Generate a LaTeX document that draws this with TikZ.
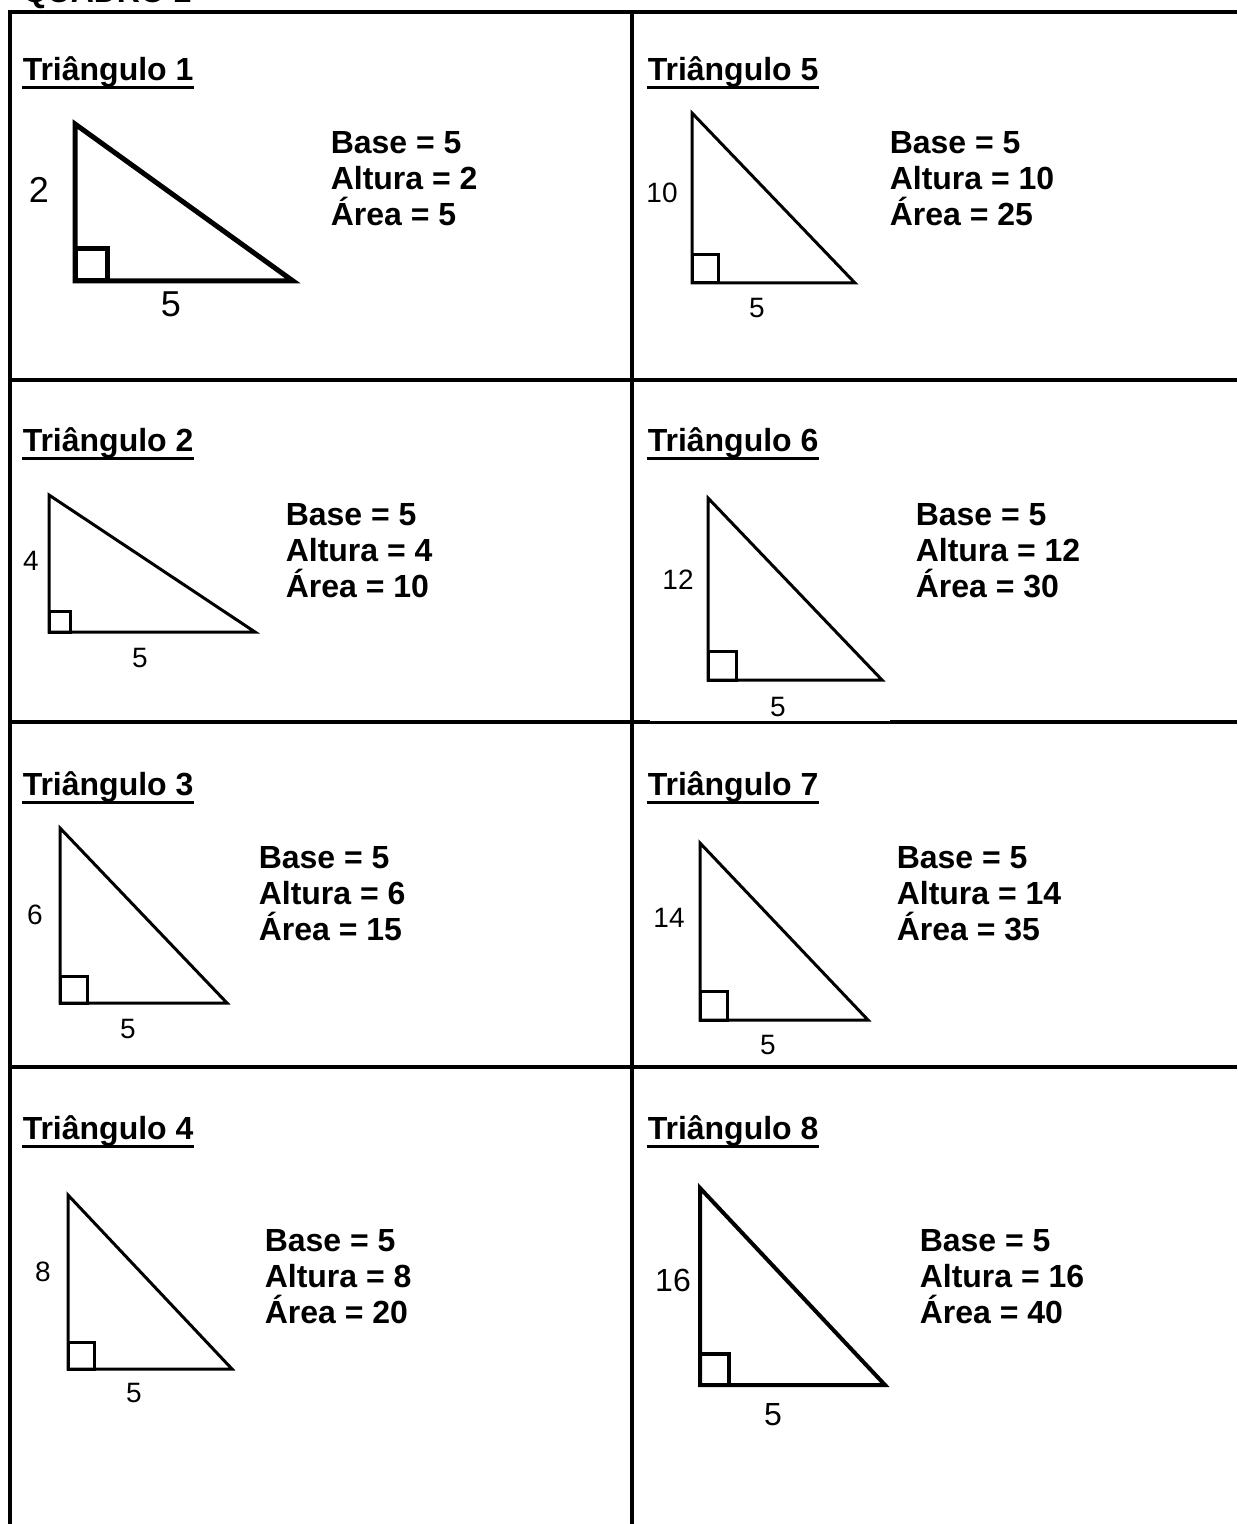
\documentclass[tikz,border=0pt]{standalone}
\usepackage{fontspec}
\setmainfont{Liberation Sans}
\usepackage{tikz}
\usetikzlibrary{calc,positioning}
\tikzset{
  every picture/.style={line width=0.75pt},
  gridline/.style={draw=black, line width=2pt},
  tripath/.style={draw=black, line width=1.5pt},
  underl/.style={draw=black, line width=1.5pt},
  titlelabel/.style={font=\fontsize{16pt}{18pt}\selectfont\bfseries, inner sep=0pt, anchor=base west},
  infolabel/.style={font=\fontsize{16pt}{18pt}\selectfont\bfseries, inner sep=0pt, anchor=base west},
  sidelabel/.style={font=\fontsize{14pt}{16pt}\selectfont, inner sep=0pt}
}
\begin{document}
\begin{tikzpicture}[x=0.5pt, y=-0.5pt]
  \useasboundingbox (0,0) rectangle (1237,1524);
  \node[titlelabel] (quadro) at (22,3) {QUADRO 2};

  % grid of the table
  \draw[gridline] (10,1524) -- (10,12) -- (1237,12);
  \draw[gridline] (632,12) -- (632,1524);
  \draw[gridline] (10,380) -- (1237,380);
  \draw[gridline] (10,722) -- (1237,722);
  \draw[gridline] (10,1067) -- (1237,1067);

  % Triangulo 1
  \node[titlelabel] (t1) at (22,81) {Triângulo 1};
  \draw[underl] ([yshift=-3.5pt]t1.base west) -- ([yshift=-3.5pt]t1.base east);
  \coordinate (c1) at (75,281);
  \draw[tripath, line width=2.5pt] (75,124) -- (c1) -- (293,281) -- cycle;
  \draw[tripath, line width=2.5pt] (c1) rectangle ++(32,-32);
  \node[sidelabel, font=\fontsize{18pt}{20pt}\selectfont] (h1) at (39,190) {2};
  \node[sidelabel, font=\fontsize{18pt}{20pt}\selectfont] (w1) at (171,304) {5};
  \node[infolabel] (b1) at (330,154) {Base = 5};
  \node[infolabel] (a1) at (330,190) {Altura = 2};
  \node[infolabel] (r1) at (330,226) {Área = 5};

  % Triangulo 2
  \node[titlelabel] (t2) at (22,451) {Triângulo 2};
  \draw[underl] ([yshift=-3.5pt]t2.base west) -- ([yshift=-3.5pt]t2.base east);
  \coordinate (c2) at (49,632);
  \draw[tripath] (49,495) -- (c2) -- (255,632) -- cycle;
  \draw[tripath] (c2) rectangle ++(21,-21);
  \node[sidelabel] (h2) at (31,561) {4};
  \node[sidelabel] (w2) at (140,658) {5};
  \node[infolabel] (b2) at (285,525) {Base = 5};
  \node[infolabel] (a2) at (285,561) {Altura = 4};
  \node[infolabel] (r2) at (285,597) {Área = 10};

  % Triangulo 3
  \node[titlelabel] (t3) at (22,795) {Triângulo 3};
  \draw[underl] ([yshift=-3.5pt]t3.base west) -- ([yshift=-3.5pt]t3.base east);
  \coordinate (c3) at (60,1003);
  \draw[tripath] (60,828) -- (c3) -- (227,1003) -- cycle;
  \draw[tripath] (c3) rectangle ++(27,-27);
  \node[sidelabel] (h3) at (35,915) {6};
  \node[sidelabel] (w3) at (128,1029) {5};
  \node[infolabel] (b3) at (258,868) {Base = 5};
  \node[infolabel] (a3) at (258,904) {Altura = 6};
  \node[infolabel] (r3) at (258,940) {Área = 15};

  % Triangulo 4
  \node[titlelabel] (t4) at (22,1139) {Triângulo 4};
  \draw[underl] ([yshift=-3.5pt]t4.base west) -- ([yshift=-3.5pt]t4.base east);
  \coordinate (c4) at (68,1369);
  \draw[tripath] (68,1195) -- (c4) -- (232,1369) -- cycle;
  \draw[tripath] (c4) rectangle ++(26,-27);
  \node[sidelabel] (h4) at (43,1272) {8};
  \node[sidelabel] (w4) at (134,1393) {5};
  \node[infolabel] (b4) at (264,1251) {Base = 5};
  \node[infolabel] (a4) at (264,1287) {Altura = 8};
  \node[infolabel] (r4) at (264,1323) {Área = 20};

  % Triangulo 5
  \node[titlelabel] (t5) at (647,81) {Triângulo 5};
  \draw[underl] ([yshift=-3.5pt]t5.base west) -- ([yshift=-3.5pt]t5.base east);
  \coordinate (c5) at (692,283);
  \draw[tripath] (692,113) -- (c5) -- (855,283) -- cycle;
  \draw[tripath] (c5) rectangle ++(26,-28);
  \node[sidelabel] (h5) at (662,193) {10};
  \node[sidelabel] (w5) at (757,308) {5};
  \node[infolabel] (b5) at (889,154) {Base = 5};
  \node[infolabel] (a5) at (889,190) {Altura = 10};
  \node[infolabel] (r5) at (889,226) {Área = 25};

  % Triangulo 6
  \node[titlelabel] (t6) at (647,451) {Triângulo 6};
  \draw[underl] ([yshift=-3.5pt]t6.base west) -- ([yshift=-3.5pt]t6.base east);
  \coordinate (c6) at (708,680);
  \draw[tripath] (708,498) -- (c6) -- (882,680) -- cycle;
  \draw[tripath] (c6) rectangle ++(28,-29);
  \node[sidelabel] (h6) at (678,580) {12};
  \node[sidelabel] (w6) at (778,707) {5};
  \node[infolabel] (b6) at (915,525) {Base = 5};
  \node[infolabel] (a6) at (915,561) {Altura = 12};
  \node[infolabel] (r6) at (915,597) {Área = 30};
  \fill[white] (650,718) rectangle (890,721);

  % Triangulo 7
  \node[titlelabel] (t7) at (647,795) {Triângulo 7};
  \draw[underl] ([yshift=-3.5pt]t7.base west) -- ([yshift=-3.5pt]t7.base east);
  \coordinate (c7) at (700,1020);
  \draw[tripath] (700,843) -- (c7) -- (868,1020) -- cycle;
  \draw[tripath] (c7) rectangle ++(27,-29);
  \node[sidelabel] (h7) at (669,918) {14};
  \node[sidelabel] (w7) at (768,1045) {5};
  \node[infolabel] (b7) at (896,868) {Base = 5};
  \node[infolabel] (a7) at (896,904) {Altura = 14};
  \node[infolabel] (r7) at (896,940) {Área = 35};

  % Triangulo 8
  \node[titlelabel] (t8) at (647,1139) {Triângulo 8};
  \draw[underl] ([yshift=-3.5pt]t8.base west) -- ([yshift=-3.5pt]t8.base east);
  \coordinate (c8) at (700,1385);
  \draw[tripath, line width=2pt] (700,1188) -- (c8) -- (885,1385) -- cycle;
  \draw[tripath, line width=2pt] (c8) rectangle ++(29,-31);
  \node[sidelabel, font=\fontsize{16pt}{18pt}\selectfont] (h8) at (673,1280) {16};
  \node[sidelabel, font=\fontsize{16pt}{18pt}\selectfont] (w8) at (773,1415) {5};
  \node[infolabel] (b8) at (919,1251) {Base = 5};
  \node[infolabel] (a8) at (919,1287) {Altura = 16};
  \node[infolabel] (r8) at (919,1323) {Área = 40};
\end{tikzpicture}
\end{document}
